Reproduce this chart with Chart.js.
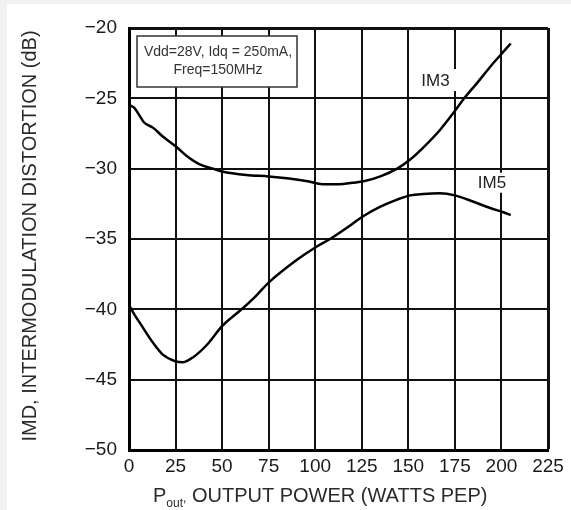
<!DOCTYPE html>
<html>
<head>
<meta charset="utf-8">
<title>IMD vs Output Power</title>
<script src="https://cdn.jsdelivr.net/npm/chart.js@4.4.1/dist/chart.umd.min.js"></script>
<style>
  html, body { margin: 0; padding: 0; background: #f1f1f1; overflow: hidden; }
  .card { position: absolute; left: 7px; top: 4px; right: 0; bottom: 0; background: #fff; }
  .chart-box { position: absolute; left: 0; top: 0; width: 564px; height: 506px; }
</style>
</head>
<body>
<div class="card">
  <div class="chart-box"><canvas id="imdChart"></canvas></div>
</div>
<script>
// output power (W PEP) and IMD (dB)
var im3Power = [0.5, 3, 6, 8, 13, 18, 25, 31, 38, 45, 50, 63, 75, 86, 96, 104, 113, 120, 126, 135, 144, 151, 158, 167, 175, 180, 187, 194, 201, 205];
var im3Values = [-25.5, -25.7, -26.3, -26.7, -27.1, -27.7, -28.4, -29.1, -29.7, -30.0, -30.2, -30.45, -30.55, -30.7, -30.9, -31.1, -31.1, -31.0, -30.9, -30.55, -30.0, -29.35, -28.5, -27.25, -25.9, -25.0, -23.9, -22.75, -21.7, -21.1];

var im5Power = [0.5, 3, 6, 13, 18, 25, 29, 34.5, 42, 50, 60, 67, 75, 90, 100, 108, 117, 125.5, 135, 144, 151, 158, 167, 175, 185, 194, 201, 205];
var im5Values = [-39.8, -40.4, -41.0, -42.4, -43.2, -43.7, -43.76, -43.4, -42.5, -41.2, -40.05, -39.2, -38.1, -36.5, -35.6, -35.0, -34.2, -33.4, -32.7, -32.2, -31.9, -31.8, -31.75, -31.9, -32.35, -32.8, -33.1, -33.3];

var seriesNames = ['IM3', 'IM5'];
var xTicks = [0, 25, 50, 75, 100, 125, 150, 175, 200, 225];
var yTicks = [-50, -45, -40, -35, -30, -25, -20];
var conditionLines = ['Vdd=28V, Idq = 250mA,', 'Freq=150MHz'];

var FONT = '"Liberation Sans", Arial, Helvetica, sans-serif';

function toPoints(xs, ys) {
  return xs.map(function (v, i) { return { x: v, y: ys[i] }; });
}

/* labels, condition box and axis titles drawn on top of the grid */
var annotations = {
  id: 'annotations',
  afterDraw: function (chart) {
    var ctx = chart.ctx;
    var area = chart.chartArea;
    var xs = chart.scales.x, ys = chart.scales.y;
    ctx.save();

    // condition box
    var bx = area.left + 8, by = area.top + 8, bw = 160, bh = 51;
    ctx.fillStyle = '#fff';
    ctx.fillRect(bx, by, bw, bh);
    ctx.strokeStyle = '#333';
    ctx.lineWidth = 1.5;
    ctx.strokeRect(bx, by, bw, bh);
    ctx.fillStyle = '#333';
    ctx.font = '14px ' + FONT;
    ctx.textAlign = 'center';
    ctx.textBaseline = 'middle';
    ctx.fillText(conditionLines[0], bx + bw / 2 + 1, by + 16);
    ctx.fillText(conditionLines[1], bx + bw / 2 + 1, by + 34);

    // series labels with white backing
    var labels = [
      { text: seriesNames[0], x: 164.6, y: -23.7, w: 46, h: 22 },
      { text: seriesNames[1], x: 194.9, y: -31.0, w: 36, h: 20 }
    ];
    ctx.font = '17px ' + FONT;
    labels.forEach(function (l) {
      var px = xs.getPixelForValue(l.x), py = ys.getPixelForValue(l.y);
      ctx.fillStyle = '#fff';
      ctx.fillRect(px - l.w / 2, py - l.h / 2, l.w, l.h);
      ctx.fillStyle = '#222';
      ctx.fillText(l.text, px, py + 1);
    });

    // x axis title with subscript
    var base = area.bottom + 52;
    var x0 = area.left + 24;
    ctx.fillStyle = '#2a2a2a';
    ctx.textAlign = 'left';
    ctx.textBaseline = 'alphabetic';
    ctx.font = '20px ' + FONT;
    ctx.fillText('P', x0, base);
    x0 += ctx.measureText('P').width;
    ctx.font = '12px ' + FONT;
    ctx.fillText('out', x0, base + 5);
    x0 += ctx.measureText('out').width;
    ctx.fillText(',', x0, base);
    x0 += ctx.measureText(',').width;
    ctx.font = '20px ' + FONT;
    ctx.fillText(' OUTPUT POWER (WATTS PEP)', x0, base);

    // y axis title
    ctx.translate(23, (area.top + area.bottom) / 2 - 3);
    ctx.rotate(-Math.PI / 2);
    ctx.textAlign = 'center';
    ctx.textBaseline = 'middle';
    ctx.fillText('IMD, INTERMODULATION DISTORTION (dB)', 0, 0);

    ctx.restore();
  }
};

var canvas = document.getElementById('imdChart');
new Chart(canvas, {
  type: 'line',
  data: {
    datasets: [{
      label: seriesNames[0],
      data: toPoints(im3Power, im3Values),
      borderColor: '#000', borderWidth: 2.5, pointRadius: 0, cubicInterpolationMode: 'monotone', fill: false
    }, {
      label: seriesNames[1],
      data: toPoints(im5Power, im5Values),
      borderColor: '#000', borderWidth: 2.5, pointRadius: 0, cubicInterpolationMode: 'monotone', fill: false
    }]
  },
  options: {
    responsive: true, maintainAspectRatio: false, animation: false,
    layout: { padding: { left: 0, top: 24, right: 23, bottom: 0 } },
    plugins: { legend: { display: false }, tooltip: { enabled: false } },
    scales: {
      x: {
        type: 'linear', min: xTicks[0], max: xTicks[xTicks.length - 1],
        afterBuildTicks: function (scale) { scale.ticks = xTicks.map(function (v) { return { value: v }; }); },
        afterFit: function (scale) { scale.height = 60; },
        grid: {
          color: '#111', drawTicks: false,
          lineWidth: function (c) { return c.tick && c.tick.value === 225 ? 3 : 2; }
        },
        border: { color: '#000', width: 3 },
        ticks: { color: '#1a1a1a', padding: 5, font: { family: FONT, size: 19 }, maxRotation: 0, autoSkip: false }
      },
      y: {
        min: yTicks[0], max: yTicks[yTicks.length - 1],
        afterBuildTicks: function (scale) { scale.ticks = yTicks.map(function (v) { return { value: v }; }); },
        afterFit: function (scale) { scale.width = 122; },
        grid: {
          color: '#111', drawTicks: false,
          lineWidth: function (c) { return c.tick && c.tick.value === -20 ? 3 : 2; }
        },
        border: { color: '#000', width: 3 },
        ticks: {
          color: '#1a1a1a', padding: 12, font: { family: FONT, size: 19 },
          callback: function (v) { return String(v).replace('-', '\u2212'); }
        }
      }
    }
  },
  plugins: [annotations]
});
</script>
</body>
</html>
